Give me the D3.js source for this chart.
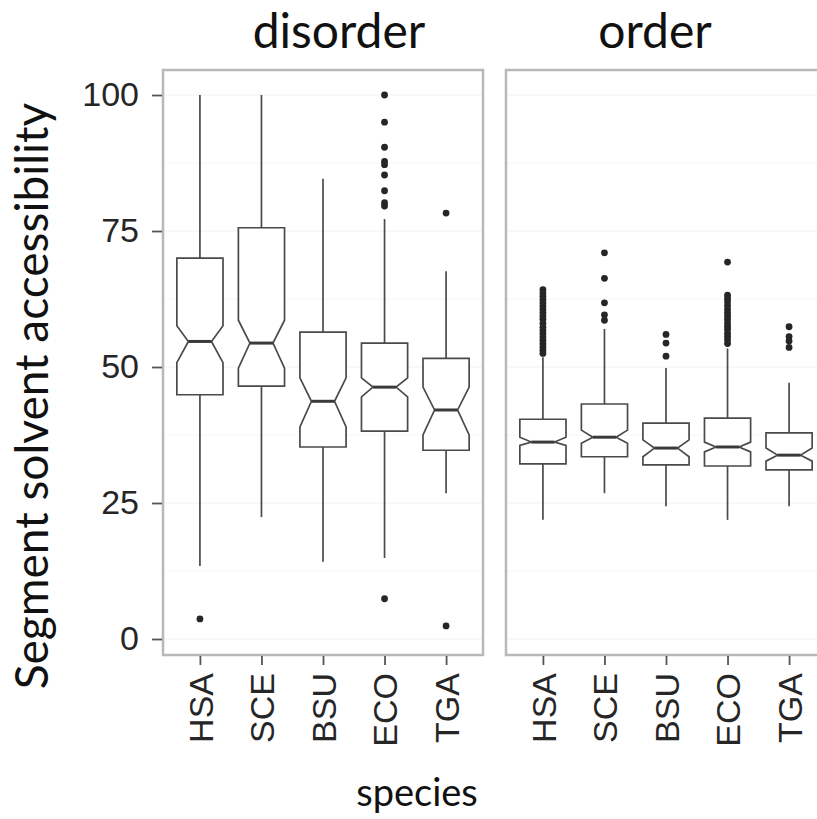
<!DOCTYPE html>
<html>
<head>
<meta charset="utf-8">
<script src="https://cdn.jsdelivr.net/npm/d3@7"></script>
<style>
  body { margin: 0; background: #fff; }
  svg { display: block; }
</style>
</head>
<body>
<div id="chart"></div>
<script>
// species on the x axis, one box per species in each facet
const species = ['HSA', 'SCE', 'BSU', 'ECO', 'TGA'];
const facets = ['disorder', 'order'];
const yTicks = [0, 25, 50, 75, 100];
const yMinor = [12.5, 37.5, 62.5, 87.5];

// box statistics (HSA, SCE, BSU, ECO, TGA)
const disorderWhiskerLow  = [13.4, 22.4, 14.2, 14.9, 26.8];
const disorderQ1          = [44.9, 46.5, 35.3, 38.2, 34.7];
const disorderNotchLow    = [50.8, 49.8, 39.0, 44.5, 37.5];
const disorderMedian      = [54.7, 54.4, 43.7, 46.3, 42.1];
const disorderNotchHigh   = [57.6, 58.6, 48.0, 48.0, 46.3];
const disorderQ3          = [70.0, 75.6, 56.4, 54.4, 51.6];
const disorderWhiskerHigh = [100, 100, 84.6, 77.2, 67.6];

const orderWhiskerLow  = [21.9, 26.8, 24.4, 21.9, 24.4];
const orderQ1          = [32.2, 33.5, 32.0, 31.8, 31.1];
const orderNotchLow    = [35.6, 36.0, 33.5, 34.4, 32.7];
const orderMedian      = [36.2, 37.1, 35.1, 35.3, 33.8];
const orderNotchHigh   = [37.1, 38.4, 36.6, 36.2, 35.1];
const orderQ3          = [40.4, 43.2, 39.7, 40.6, 37.9];
const orderWhiskerHigh = [51.8, 57.0, 49.8, 53.4, 47.1];

// outliers per species
const disorderOutliers = [
    [3.7],
    [],
    [],
    [100, 95.0, 90.4, 87.8, 87.2, 85.3, 82.4, 80.2, 79.6, 7.4],
    [78.3, 2.4]
];
const orderOutliers = [
    [64.2, 63.6, 63.0, 62.4, 61.8, 61.2, 60.6, 60.0, 59.4, 58.8, 58.0, 57.3, 56.7, 56.1, 55.5, 54.9, 54.3, 53.7, 53.1, 52.5],
    [71.0, 66.3, 61.8, 59.6, 58.6],
    [56.0, 54.4, 52.0],
    [69.3, 63.2, 62.6, 62.0, 61.3, 60.6, 60.0, 59.4, 58.8, 58.1, 57.5, 56.9, 56.2, 55.6, 55.0, 54.3],
    [57.4, 55.6, 54.8, 53.6]
];

function buildRows(lo, q1, nlo, med, nhi, q3, hi, out) {
    return species.map((s, i) => ({
        species: s, lo: lo[i], q1: q1[i], nlo: nlo[i], med: med[i],
        nhi: nhi[i], q3: q3[i], hi: hi[i], out: out[i]
    }));
}

const panels = [
    buildRows(disorderWhiskerLow, disorderQ1, disorderNotchLow, disorderMedian,
        disorderNotchHigh, disorderQ3, disorderWhiskerHigh, disorderOutliers),
    buildRows(orderWhiskerLow, orderQ1, orderNotchLow, orderMedian,
        orderNotchHigh, orderQ3, orderWhiskerHigh, orderOutliers)
];

const width = 817, height = 819;
const panelTop = 70, panelBottom = 655, panelWidth = 320;
const panelLefts = [163, 506];
const stripX = [339, 655];
const lineColor = '#4a4a4a';

const svg = d3.select('#chart').append('svg')
    .attr('width', width)
    .attr('height', height);

const y = d3.scaleLinear()
    .domain([-2.94, 104.6])
    .range([panelBottom, panelTop]);

panels.forEach((rows, p) => {
    const left = panelLefts[p];
    const x = d3.scalePoint()
        .domain(species)
        .range([left, left + panelWidth])
        .padding(0.6);
    const boxW = x.step() * 0.75;
    const notchW = boxW * 0.5;

    const g = svg.append('g').attr('class', 'panel');

    // faint grid
    g.selectAll('line.minor')
        .data(yMinor)
        .join('line')
        .attr('class', 'minor')
        .attr('x1', left).attr('x2', left + panelWidth)
        .attr('y1', d => y(d)).attr('y2', d => y(d))
        .attr('stroke', '#f6f6f6').attr('stroke-width', 1);
    g.selectAll('line.major')
        .data(yTicks)
        .join('line')
        .attr('class', 'major')
        .attr('x1', left).attr('x2', left + panelWidth)
        .attr('y1', d => y(d)).attr('y2', d => y(d))
        .attr('stroke', '#f1f1f1').attr('stroke-width', 1.2);

    const box = g.selectAll('g.box')
        .data(rows)
        .join('g')
        .attr('class', 'box');

    // whiskers
    box.append('line')
        .attr('x1', d => x(d.species)).attr('x2', d => x(d.species))
        .attr('y1', d => y(d.q3)).attr('y2', d => y(d.hi))
        .attr('stroke', lineColor).attr('stroke-width', 1.7);
    box.append('line')
        .attr('x1', d => x(d.species)).attr('x2', d => x(d.species))
        .attr('y1', d => y(d.q1)).attr('y2', d => y(d.lo))
        .attr('stroke', lineColor).attr('stroke-width', 1.7);

    // notched box
    box.append('path')
        .attr('d', d => {
            const cx = x(d.species);
            const x0 = cx - boxW / 2, x1 = cx + boxW / 2;
            return d3.line()([
                [x0, y(d.q3)], [x1, y(d.q3)], [x1, y(d.nhi)],
                [cx + notchW / 2, y(d.med)], [x1, y(d.nlo)], [x1, y(d.q1)],
                [x0, y(d.q1)], [x0, y(d.nlo)], [cx - notchW / 2, y(d.med)],
                [x0, y(d.nhi)]
            ]) + 'Z';
        })
        .attr('fill', '#fff')
        .attr('stroke', lineColor)
        .attr('stroke-width', 1.7);

    // median
    box.append('line')
        .attr('x1', d => x(d.species) - notchW / 2)
        .attr('x2', d => x(d.species) + notchW / 2)
        .attr('y1', d => y(d.med)).attr('y2', d => y(d.med))
        .attr('stroke', '#3a3a3a').attr('stroke-width', 3);

    // outliers
    box.selectAll('circle')
        .data(d => d.out.map(v => ({ species: d.species, v: v })))
        .join('circle')
        .attr('cx', d => x(d.species))
        .attr('cy', d => y(d.v))
        .attr('r', 3.4)
        .attr('fill', '#262626');

    // panel border
    g.append('rect')
        .attr('x', left).attr('y', panelTop)
        .attr('width', panelWidth).attr('height', panelBottom - panelTop)
        .attr('fill', 'none')
        .attr('stroke', '#b8b8b8')
        .attr('stroke-width', 2.5);

    // x axis
    const xAxis = svg.append('g')
        .attr('transform', 'translate(0,' + (panelBottom + 1) + ')')
        .call(d3.axisBottom(x).tickSize(9).tickPadding(6));
    xAxis.select('.domain').remove();
    xAxis.selectAll('.tick line').attr('stroke', '#555').attr('stroke-width', 1.8);
    xAxis.selectAll('.tick text')
        .attr('transform', 'rotate(-90)')
        .attr('text-anchor', 'end')
        .attr('dy', '0.36em')
        .attr('x', -17)
        .attr('y', 0)
        .attr('fill', '#262626')
        .style('font-family', 'Liberation Sans, Arial, sans-serif')
        .style('font-size', '34px');

    // strip title
    svg.append('text')
        .attr('x', stripX[p])
        .attr('y', 48)
        .attr('text-anchor', 'middle')
        .style('font-family', 'Lato, sans-serif')
        .style('font-size', '48px')
        .attr('fill', '#111')
        .text(facets[p]);
});

// y axis
const yAxis = svg.append('g')
    .attr('transform', 'translate(' + (panelLefts[0] - 1) + ',0)')
    .call(d3.axisLeft(y).tickValues(yTicks).tickSize(10).tickPadding(13));
yAxis.select('.domain').remove();
yAxis.selectAll('.tick line').attr('stroke', '#555').attr('stroke-width', 1.8);
yAxis.selectAll('.tick text')
    .attr('fill', '#262626')
    .style('font-family', 'Liberation Sans, Arial, sans-serif')
    .style('font-size', '34px');

// axis titles
svg.append('text')
    .attr('transform', 'translate(48,396) rotate(-90)')
    .attr('text-anchor', 'middle')
    .style('font-family', 'Lato, sans-serif')
    .style('font-size', '46px')
    .attr('fill', '#111')
    .text('Segment solvent accessibility');

svg.append('text')
    .attr('x', 417)
    .attr('y', 806)
    .attr('text-anchor', 'middle')
    .style('font-family', 'Lato, sans-serif')
    .style('font-size', '38px')
    .attr('fill', '#111')
    .text('species');
</script>
</body>
</html>
